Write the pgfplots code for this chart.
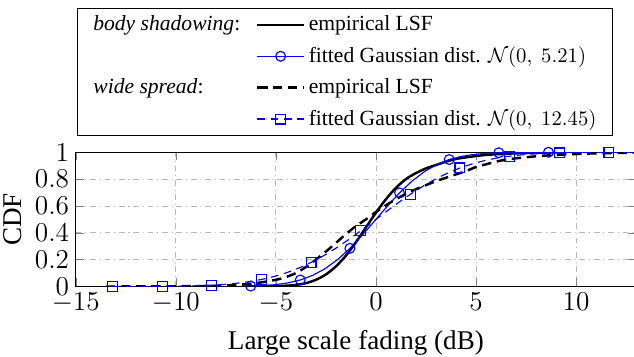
\documentclass[border=0pt]{standalone}
\usepackage{fontspec}
\setmainfont{Liberation Serif}
\usepackage{pgfplots}
\pgfplotsset{compat=1.18}
\definecolor{fitblue}{RGB}{0,0,255}

\begin{document}
\begin{tikzpicture}
\begin{axis}[
  scale only axis, width=295.9pt, height=70.9pt,
  xmin=-15, xmax=13, ymin=0, ymax=1,
  xtick={-15,-10,-5,0,5,10}, ytick={0,0.2,0.4,0.6,0.8,1},
  grid=major, major grid style={dash pattern=on 3pt off 2pt on 0.6pt off 2pt, black!28, line width=0.4pt},
  tick label style={font=\fontsize{14}{16}\selectfont},
  label style={font=\fontsize{14.3}{16}\selectfont},
  xlabel style={yshift=-2.5pt},
  xlabel={Large scale fading (dB)}, ylabel={CDF},
  legend columns=2, legend cell align=left,
  legend style={at={(0,1)}, anchor=south west, yshift=8.5pt, xshift=0.5pt,
    font=\fontsize{11.4}{13}\selectfont, draw=black, row sep=3pt, inner xsep=6.6pt},
  legend image code/.code={\draw[mark repeat=2,mark phase=2] plot coordinates {(0cm,0cm) (0.43cm,0cm) (0.86cm,0cm)};},
]
\coordinate (bl) at (rel axis cs:0,0);

\addlegendimage{empty legend}
\addlegendentry{\textit{body shadowing}:\hspace*{6.4pt}}

\addplot[black, line width=1.3pt, smooth] coordinates {
(-6.7,0) (-6,0.001) (-5,0.003) (-4.5,0.006) (-4,0.012) (-3.5,0.025) (-3,0.05)
(-2.5,0.09) (-2,0.15) (-1.5,0.23) (-1,0.33) (-0.5,0.44) (0,0.55) (0.5,0.65)
(1,0.735) (1.5,0.80) (2,0.845) (2.5,0.88) (3,0.905) (3.5,0.93) (4,0.95)
(4.5,0.962) (5,0.972) (5.5,0.98) (6,0.985) (7,0.992) (8,0.996) (9,0.999) (9.5,1)
};
\addlegendentry{empirical LSF}

\addlegendimage{empty legend}
\addlegendentry{}

\addplot[fitblue, line width=0.6pt, mark=o, mark size=2.6pt, mark repeat=4, mark phase=1, mark options={solid, draw=fitblue}] coordinates {
(-6.26,0.00305) (-5.64,0.00674) (-5.02,0.01393) (-4.40,0.02695) (-3.78,0.04885)
(-3.16,0.08312) (-2.54,0.13291) (-1.92,0.20012) (-1.30,0.28450) (-0.68,0.38288)
(-0.06,0.48951) (0.56,0.59690) (1.18,0.69742) (1.80,0.78482) (2.42,0.85548)
(3.04,0.90855) (3.66,0.94558) (4.28,0.96961) (4.90,0.98409) (5.52,0.99221)
(6.14,0.99643) (6.76,0.99847) (7.38,0.99939) (8.00,0.99977) (8.62,0.99992)
(9.24,0.99997) (9.86,0.99999) (10.48,1.0)
};
\addlegendentry{fitted Gaussian dist. $\mathcal{N}(0,\ 5.21)$}

\addlegendimage{empty legend}
\addlegendentry{\textit{wide spread}:}

\addplot[black, line width=1.3pt, dash pattern=on 5pt off 3pt, smooth] coordinates {
(-13.5,0) (-11,0.001) (-9,0.003) (-8,0.006) (-7,0.012) (-6,0.025) (-5,0.05)
(-4.5,0.07) (-4,0.1) (-3.5,0.145) (-3,0.2) (-2.5,0.26) (-2,0.325) (-1.5,0.39)
(-1,0.45) (-0.5,0.5) (0,0.555) (0.5,0.605) (1,0.65) (1.5,0.69) (2,0.725)
(2.5,0.755) (3,0.785) (3.5,0.81) (4,0.835) (4.5,0.86) (5,0.89) (5.5,0.91)
(6,0.93) (6.5,0.945) (7,0.955) (8,0.97) (9,0.98) (10,0.987) (11,0.992) (12,0.995) (13,0.997)
};
\addlegendentry{empirical LSF}

\addlegendimage{empty legend}
\addlegendentry{}

\addplot[fitblue, line width=0.6pt, dash pattern=on 4pt off 3pt, mark=square, mark size=2.6pt, mark repeat=4, mark phase=1, mark options={solid, draw=fitblue}] coordinates {
(-13.16,0.0001) (-12.54,0.00019) (-11.92,0.00036) (-11.30,0.00068) (-10.68,0.00124)
(-10.06,0.00218) (-9.44,0.00373) (-8.82,0.00622) (-8.20,0.01006) (-7.58,0.01585)
(-6.96,0.02428) (-6.34,0.03618) (-5.72,0.05250) (-5.10,0.07417) (-4.48,0.10210)
(-3.86,0.13697) (-3.24,0.17926) (-2.62,0.22889) (-2.00,0.28542) (-1.38,0.34786)
(-0.76,0.41473) (-0.14,0.48417) (0.48,0.55410) (1.10,0.62238) (1.72,0.68705)
(2.34,0.74639) (2.96,0.79924) (3.58,0.84486) (4.20,0.88303) (4.82,0.91404)
(5.44,0.93842) (6.06,0.95706) (6.68,0.97083) (7.30,0.98072) (7.92,0.98760)
(8.54,0.99225) (9.16,0.99528) (9.78,0.99721) (10.40,0.99840) (11.02,0.99911)
(11.64,0.99951) (12.26,0.99974) (12.88,0.99987)
};
\addlegendentry{fitted Gaussian dist. $\mathcal{N}(0,\ 12.45)$}
\end{axis}
\pgfresetboundingbox
\useasboundingbox ([shift={(-40pt,-36.9pt)}]bl) rectangle ([shift={(294.8pt,151.3pt)}]bl);
\end{tikzpicture}
\end{document}
